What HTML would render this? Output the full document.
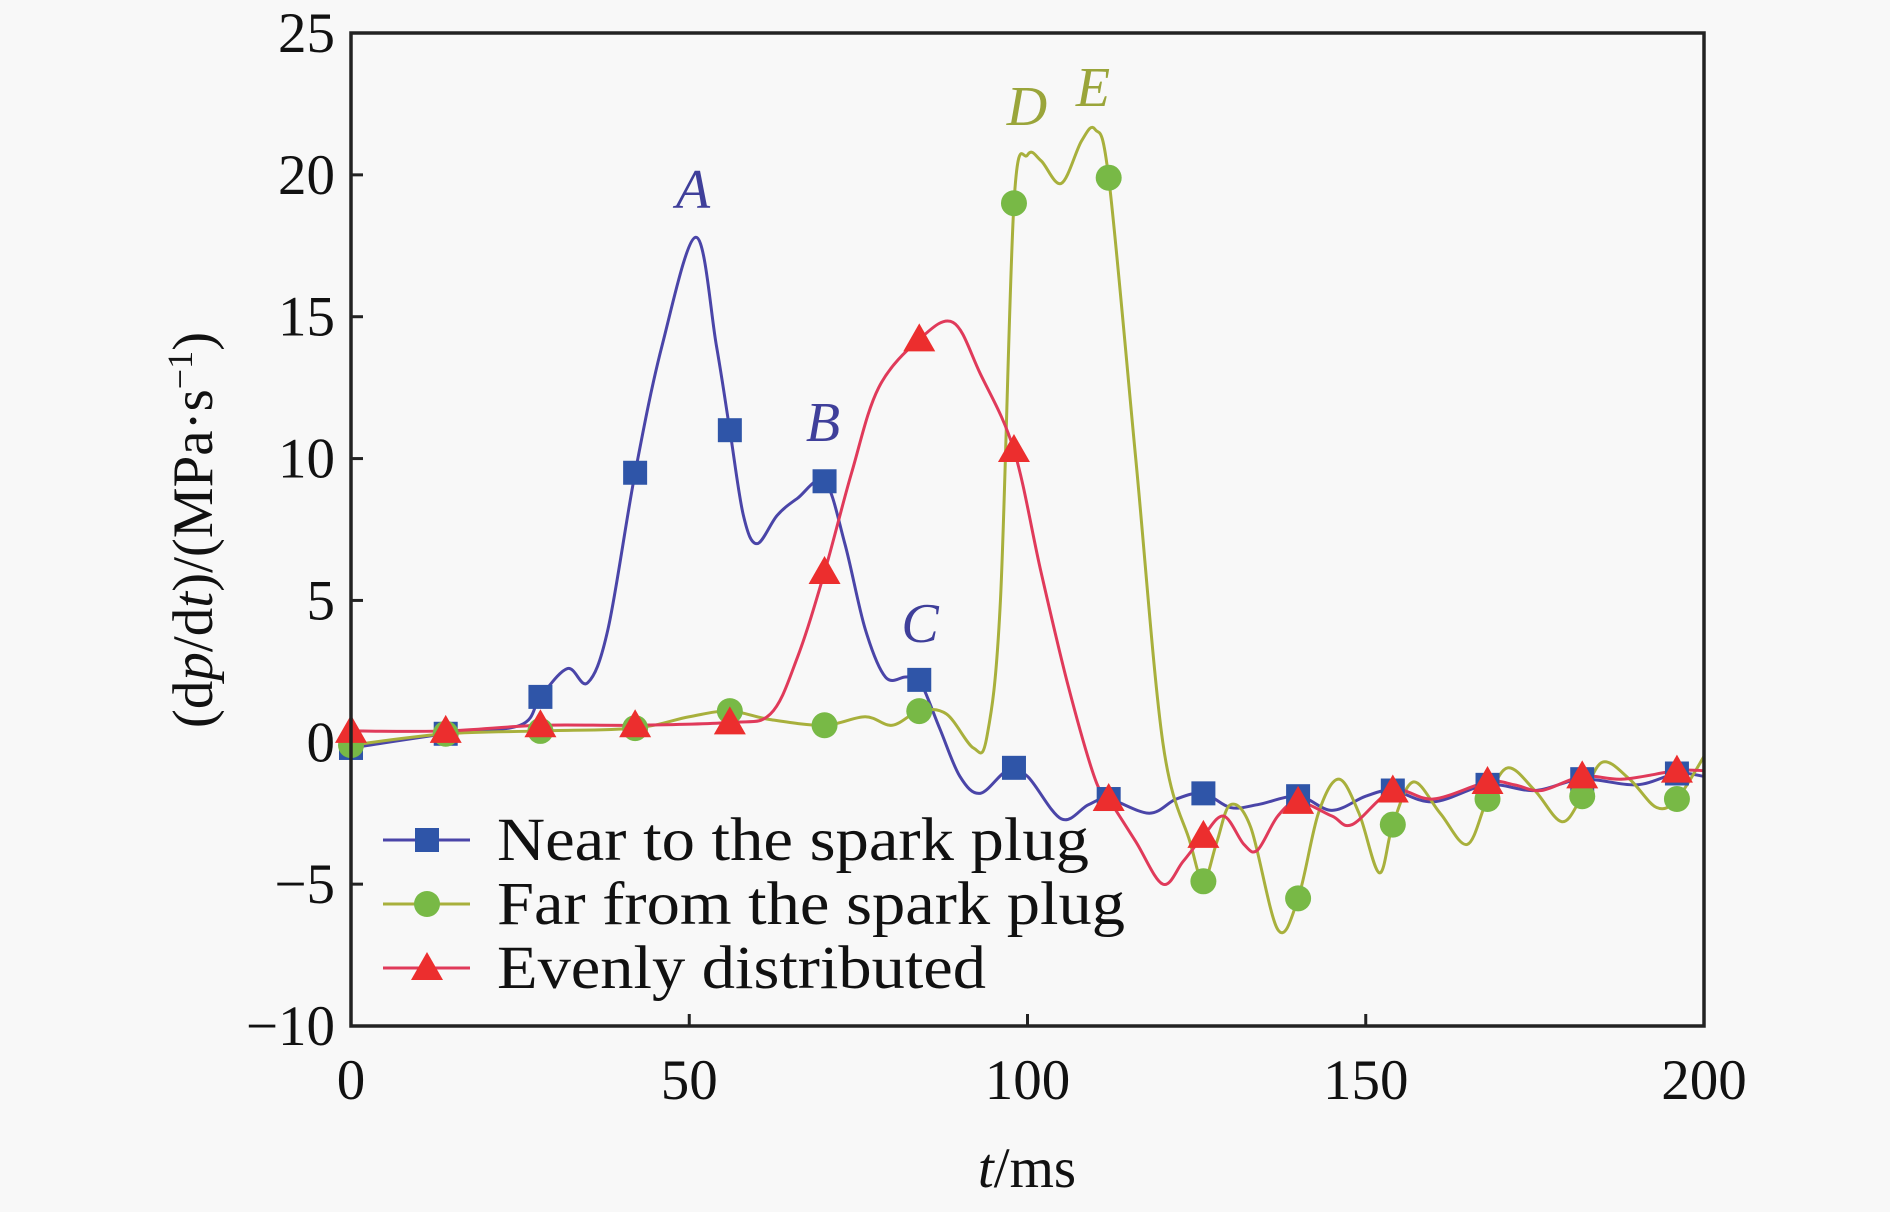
<!DOCTYPE html>
<html><head><meta charset="utf-8"><style>
html,body{margin:0;padding:0;background:#f8f8f8;}
svg{display:block;font-family:"Liberation Serif",serif;}
</style></head><body>
<svg id="chart" width="1890" height="1212" viewBox="0 0 1890 1212">
<rect width="1890" height="1212" fill="#f8f8f8"/>
<g id="plot"></g>
</svg>
<script>
const xTicks=[0,50,100,150,200];
const yTicks=[-10,-5,0,5,10,15,20,25];
const yTickLabels=["\u221210","\u22125","0","5","10","15","20","25"];
const markerT=[0,14,28,42,56,70,84,98,112,126,140,154,168,182,196];
const nearMarks=[-0.2,0.3,1.6,9.5,11.0,9.2,2.2,-0.9,-2.0,-1.8,-1.9,-1.7,-1.5,-1.3,-1.1];
const farMarks=[-0.1,0.3,0.4,0.5,1.1,0.6,1.1,19.0,19.9,-4.9,-5.5,-2.9,-2.0,-1.9,-2.0];
const evenMarks=[0.4,0.4,0.6,0.6,0.7,6.0,14.2,10.3,-2.0,-3.3,-2.1,-1.7,-1.4,-1.2,-1.0];
const nearT=[0,14,25,28,32,35,38,42,46,51,54,56,58,60,63,66,70,73,76,79,82,84,87,90,93,97,100,105,109,112,118,122,126,130,134,140,145,150,154,160,168,175,182,190,196,200];
const nearV=[-0.2,0.3,0.6,1.6,2.6,2.1,4,9.5,14,17.8,14,11,8,7,8,8.6,9.2,7,4,2.3,2.3,2.2,0.5,-1.2,-1.8,-1,-1.2,-2.7,-2.2,-2.0,-2.5,-2.0,-1.8,-2.3,-2.2,-1.9,-2.4,-1.9,-1.7,-2.1,-1.5,-1.7,-1.3,-1.5,-1.1,-1.2];
const farT=[0,14,28,42,50,56,62,70,76,80,84,88,92,94,96,98,100,102,105,108,110,112,116,120,124,126,128,130,133,137,140,143,146,149,152,154,157,161,165,168,171,175,179,182,185,189,193,196,200];
const farV=[-0.1,0.3,0.4,0.5,0.9,1.1,0.8,0.6,0.9,0.6,1.1,1.0,-0.2,0.2,5,19,20.7,20.5,19.7,21.2,21.6,19.9,10,0,-3.5,-4.9,-3.5,-2.2,-3,-6.6,-5.5,-2.5,-1.3,-2.5,-4.6,-2.9,-1.4,-2.5,-3.6,-2.0,-0.9,-1.7,-2.8,-1.9,-0.7,-1.3,-2.3,-2.0,-0.5];
const evenT=[0,14,28,42,56,62,66,70,74,78,84,89,93,98,102,106,110,112,116,120,123,126,129,132,134,137,140,145,148,154,160,168,172,176,182,188,196,200];
const evenV=[0.4,0.4,0.6,0.6,0.7,1.0,3,6.0,9.5,12.5,14.2,14.8,13,10.3,6,2,-1.3,-2.0,-3.5,-5.0,-4.2,-3.3,-2.6,-3.6,-3.8,-2.6,-2.1,-2.6,-2.9,-1.7,-2.0,-1.4,-1.5,-1.7,-1.2,-1.3,-1.0,-1.0];

const X0=351,X1=1704,YT=33,YB=1026;
const sx=t=>X0+(t-0)/200*(X1-X0);
const sy=v=>YB-(v+10)/35*(YB-YT);
const NS="http://www.w3.org/2000/svg";
const g=document.getElementById('plot');
function mk(tag,attrs,parent){const e=document.createElementNS(NS,tag);for(const k in attrs)e.setAttribute(k,attrs[k]);(parent||g).appendChild(e);return e;}
function path(ts,vs){const p=ts.map((t,i)=>[sx(t),sy(vs[i])]);let d="M"+p[0][0]+","+p[0][1];
for(let i=0;i<p.length-1;i++){const a=p[Math.max(0,i-1)],b=p[i],c=p[i+1],e=p[Math.min(p.length-1,i+2)];
d+=" C"+(b[0]+(c[0]-a[0])/6)+","+(b[1]+(c[1]-a[1])/6)+" "+(c[0]-(e[0]-b[0])/6)+","+(c[1]-(e[1]-b[1])/6)+" "+c[0]+","+c[1];}return d;}

xTicks.forEach(t=>{
 const tk=mk('line',{x1:sx(t),x2:sx(t),y1:YB,y2:YB-12,stroke:'#222','stroke-width':3});
 
 
 const tx=mk('text',{x:sx(t),y:1099,'font-size':57,'text-anchor':'middle',fill:'#111'});tx.textContent=t;
 
 
});
yTicks.forEach((v,i)=>{
 const tk=mk('line',{x1:X0,x2:X0+12,y1:sy(v),y2:sy(v),stroke:'#222','stroke-width':3});
 
 
 const tx=mk('text',{x:335,y:sy(v)+19,'font-size':57,'text-anchor':'end',fill:'#111'});tx.textContent=yTickLabels[i];
 
 
});

const series=[
 {name:'near',T:nearT,V:nearV,M:nearMarks,line:'#4a45a8',fill:'#2f55a8',shape:'sq'},
 {name:'far',T:farT,V:farV,M:farMarks,line:'#a8b03c',fill:'#78b946',shape:'ci'},
 {name:'even',T:evenT,V:evenV,M:evenMarks,line:'#e03a5a',fill:'#ec2e2e',shape:'tr'}];
function marker(s,x,y){let e;
 if(s.shape==='sq')e=mk('rect',{x:x-12,y:y-12,width:24,height:24,fill:s.fill});
 else if(s.shape==='ci')e=mk('circle',{cx:x,cy:y,r:13,fill:s.fill});
 else e=mk('polygon',{points:`${x},${y-16} ${x-16},${y+12} ${x+16},${y+12}`,fill:s.fill});
 return e;}
series.forEach(s=>{
 const l=mk('path',{d:path(s.T,s.V),fill:'none',stroke:s.line,'stroke-width':3});
 
 
});
series.forEach(s=>{
 markerT.forEach((t,i)=>{const m=marker(s,sx(t),sy(s.M[i]));
  
  });
});

const ax=mk('path',{d:`M${X0},${YT} H${X1} V${YB} H${X0} Z`,fill:'none',stroke:'#222','stroke-width':3.5});



const legNames=["Near to the spark plug","Far from the spark plug","Evenly distributed"];
const legW=[592,628,489];
const legY=[840,904,968];
series.forEach((s,i)=>{
 const l=mk('line',{x1:383,x2:470,y1:legY[i],y2:legY[i],stroke:s.line,'stroke-width':3});
 
 
 const m=marker(s,427,legY[i]);
 
 
 const t=mk('text',{x:497,y:legY[i]+20,'font-size':61,fill:'#111',textLength:legW[i],lengthAdjust:'spacingAndGlyphs'});t.textContent=legNames[i];
 
 
});

const ann=[["A",693,208,'#3f3f9a'],["B",823,441,'#3f3f9a'],["C",920,642,'#3f3f9a'],["D",1027,125,'#9aa53a'],["E",1093,106,'#9aa53a']];
ann.forEach(a=>{const t=mk('text',{x:a[1],y:a[2],'font-size':56,'font-style':'italic','text-anchor':'middle',fill:a[3]});t.textContent=a[0];
 
 });

const xt=mk('text',{x:1027,y:1187,'font-size':57,'text-anchor':'middle',fill:'#111'});
xt.innerHTML='<tspan font-style="italic">t</tspan>/ms';


const yt=mk('text',{x:0,y:0,'font-size':57,'text-anchor':'middle',fill:'#111',transform:'translate(212,530) rotate(-90)'});
yt.innerHTML='(d<tspan font-style="italic">p</tspan>/d<tspan font-style="italic">t</tspan>)/(MPa·s<tspan dy="-20" font-size="36">−1</tspan><tspan dy="20">)</tspan>';


</script>
</body></html>
